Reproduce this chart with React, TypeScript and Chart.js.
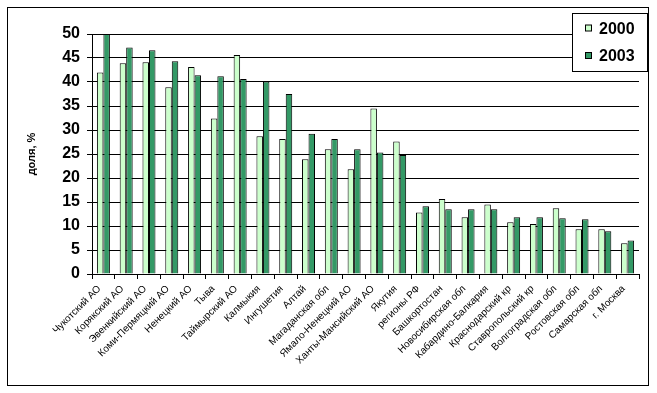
import React, { useEffect, useRef } from "react";
import { Chart, registerables } from "chart.js";

Chart.register(...registerables);

const categories = [
  "Чукотский АО",
  "Корякский АО",
  "Эвенкийский АО",
  "Коми-Пермяцкий АО",
  "Ненецкий АО",
  "Тыва",
  "Таймырский АО",
  "Калмыкия",
  "Ингушетия",
  "Алтай",
  "Магаданская обл",
  "Ямало-Ненецкий АО",
  "Ханты-Мансийский АО",
  "Якутия",
  "регионы РФ",
  "Башкортостан",
  "Новосибирская обл",
  "Кабардино-Балкария",
  "Краснодарский кр",
  "Ставропольский кр",
  "Волгоградская обл",
  "Ростовская обл",
  "Самарская обл",
  "г. Москва",
];

const values2000 = [
  42.0, 43.9, 44.1, 38.9, 43.1, 32.4, 45.6, 28.7, 28.1, 23.9, 26.0, 21.8,
  34.5, 27.6, 12.8, 15.6, 11.8, 14.5, 10.8, 10.4, 13.7, 9.3, 9.3, 6.4,
];

const values2003 = [
  50.0, 47.2, 46.6, 44.3, 41.4, 41.2, 40.6, 40.1, 37.5, 29.2, 28.1, 26.0,
  25.3, 24.8, 14.1, 13.5, 13.5, 13.5, 11.8, 11.8, 11.6, 11.4, 8.9, 7.0,
];

const seriesLabels = ["2000", "2003"];
const seriesColors = ["#CCFFCC", "#339966"];
const yTitle = "доля, %";

const framePlugin = {
  id: "frameAndLegend",
  afterDraw(chart: any) {
    const ctx = chart.ctx;
    ctx.save();
    ctx.strokeStyle = "#000";
    ctx.lineWidth = 1;
    ctx.strokeRect(7.5, 7.5, 641, 378);
    ctx.fillStyle = "#fff";
    ctx.fillRect(572.5, 13.5, 75, 58);
    ctx.strokeRect(572.5, 13.5, 75, 58);
    ctx.font = "bold 16px 'Liberation Sans', Arial, sans-serif";
    ctx.textBaseline = "middle";
    ctx.textAlign = "left";
    const rows = [28.5, 56];
    seriesLabels.forEach((lab, i) => {
      const y = rows[i];
      ctx.fillStyle = seriesColors[i];
      ctx.fillRect(585.5, y - 3.5, 6, 6);
      ctx.strokeStyle = "#000";
      ctx.strokeRect(585.5, y - 3.5, 6, 6);
      ctx.fillStyle = "#000";
      ctx.fillText(lab, 599, y + 1);
    });
    ctx.restore();
  },
};

export default function App() {
  const ref = useRef<HTMLCanvasElement>(null);

  useEffect(() => {
    if (!ref.current) return;
    const chart = new Chart(ref.current, {
      type: "bar",
      data: {
        labels: categories,
        datasets: [
          {
            label: seriesLabels[0],
            data: values2000,
            backgroundColor: seriesColors[0],
            borderColor: "#000",
            borderWidth: 1,
            categoryPercentage: 0.57,
            barPercentage: 1,
          },
          {
            label: seriesLabels[1],
            data: values2003,
            backgroundColor: seriesColors[1],
            borderColor: "#000",
            borderWidth: 1,
            categoryPercentage: 0.57,
            barPercentage: 1,
          },
        ],
      },
      options: {
        responsive: false,
        animation: false,
        devicePixelRatio: 1,
        layout: { padding: { left: 0, top: 34, right: 18, bottom: 0 } },
        plugins: {
          legend: { display: false },
          tooltip: { enabled: false },
        },
        scales: {
          x: {
            afterFit(scale: any) {
              scale.height = 119;
            },
            grid: {
              display: true,
              drawOnChartArea: false,
              drawTicks: true,
              tickLength: 5,
              offset: true,
              color: "#000",
            },
            border: { display: true, color: "#000", width: 1 },
            ticks: {
              autoSkip: false,
              maxRotation: 45,
              minRotation: 45,
              padding: 4,
              labelOffset: -4,
              color: "#000",
              font: { family: "'Liberation Sans', Arial, sans-serif", size: 10 },
            },
          },
          y: {
            min: 0,
            max: 50,
            afterFit(scale: any) {
              scale.width = 92;
            },
            ticks: {
              stepSize: 5,
              padding: 7,
              color: "#000",
              font: {
                family: "'Liberation Sans', Arial, sans-serif",
                size: 16,
                weight: "bold",
              },
            },
            grid: {
              color: "#000",
              lineWidth: 1,
              tickLength: 5,
              drawTicks: true,
            },
            border: { display: true, color: "#000", width: 1 },
            title: {
              display: true,
              text: yTitle,
              color: "#000",
              padding: { top: 25, bottom: 0 },
              font: {
                family: "'Liberation Sans', Arial, sans-serif",
                size: 11,
                weight: "bold",
              },
            },
          },
        },
      },
      plugins: [framePlugin],
    });
    return () => chart.destroy();
  }, []);

  return (
    <div
      style={{
        position: "absolute",
        left: 0,
        top: 0,
        width: 657,
        height: 393,
        background: "#fff",
      }}
    >
      <canvas ref={ref} width={657} height={393} />
    </div>
  );
}
